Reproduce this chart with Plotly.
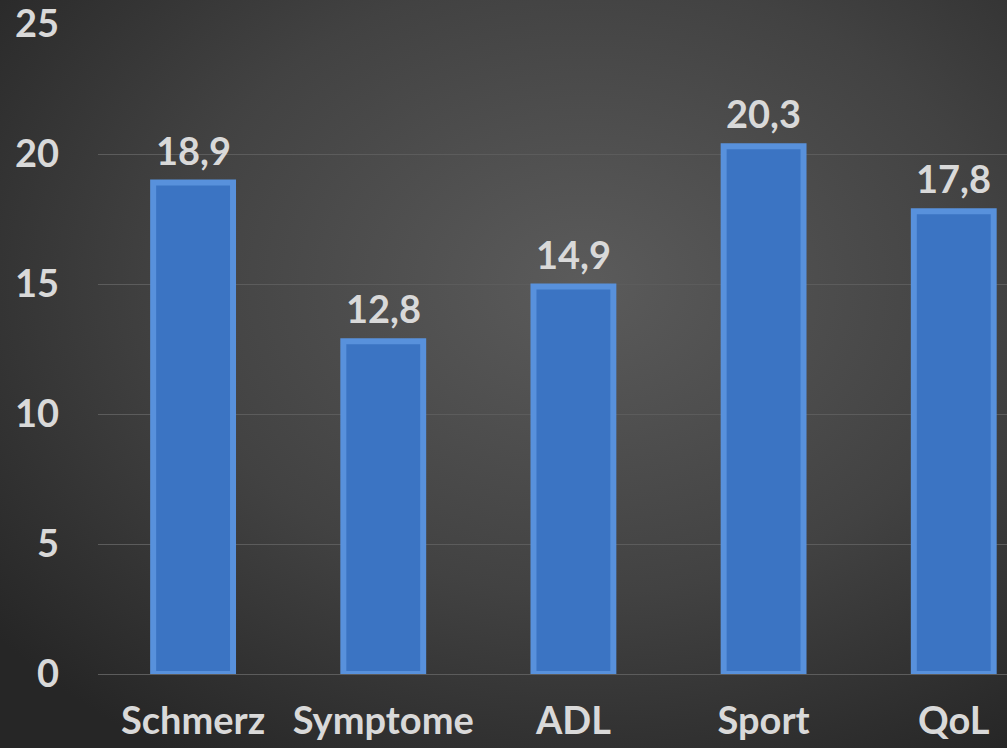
import plotly.graph_objects as go
import urllib.parse

categories = ["Schmerz", "Symptome", "ADL", "Sport", "QoL"]
values = [18.9, 12.8, 14.9, 20.3, 17.8]
y_ticks = [0, 5, 10, 15, 20, 25]

TXT = "#d9d9d9"
FONT = "Lato"
FS = 38

svg = (
    "<svg xmlns='http://www.w3.org/2000/svg' width='1007' height='748'>"
    "<defs><radialGradient id='g' cx='58%' cy='38%' r='75%'>"
    "<stop offset='0%' stop-color='#5b5b5b'/>"
    "<stop offset='55%' stop-color='#424242'/>"
    "<stop offset='100%' stop-color='#262626'/>"
    "</radialGradient></defs>"
    "<rect width='1007' height='748' fill='url(#g)'/></svg>"
)
bg_src = "data:image/svg+xml;charset=utf-8," + urllib.parse.quote(svg)

fig = go.Figure()
fig.add_trace(go.Bar(
    x=categories, y=values,
    width=0.42,
    marker=dict(color="#3b74c3", line=dict(color="#5891dc", width=6)),
))

for c, v in zip(categories, values):
    fig.add_annotation(
        x=c, y=v, text=f"{v:.1f}".replace(".", ","),
        showarrow=False, yanchor="bottom", yshift=8,
        font=dict(family=FONT, size=FS, color=TXT, weight="bold"),
    )

pw, ph = 909, 650
fig.update_layout(
    width=1007, height=748,
    margin=dict(l=98, r=0, t=24, b=74),
    paper_bgcolor="#333333",
    plot_bgcolor="rgba(0,0,0,0)",
    separators=",.",
    showlegend=False,
    images=[dict(
        source=bg_src, xref="paper", yref="paper",
        x=-98 / pw, y=1 + 24 / ph, sizex=1007 / pw, sizey=748 / ph,
        xanchor="left", yanchor="top", sizing="stretch", layer="below",
    )],
    xaxis=dict(
        range=[-0.5, 4.28],
        showgrid=False, zeroline=False, showline=False,
        tickfont=dict(family=FONT, size=FS, color=TXT, weight="bold"),
        ticks="", ticklabelstandoff=21,
        ticklabeloverflow="allow",
    ),
    yaxis=dict(
        range=[0, 25], tickvals=y_ticks,
        showgrid=True, gridcolor="#5c5c5c", gridwidth=1,
        zeroline=True, zerolinecolor="#5c5c5c", zerolinewidth=1,
        showline=False,
        tickfont=dict(family=FONT, size=FS, color=TXT, weight="bold"),
        ticks="", ticklabelstandoff=38,
        ticklabeloverflow="allow",
    ),
)

fig.write_html("out.html")
